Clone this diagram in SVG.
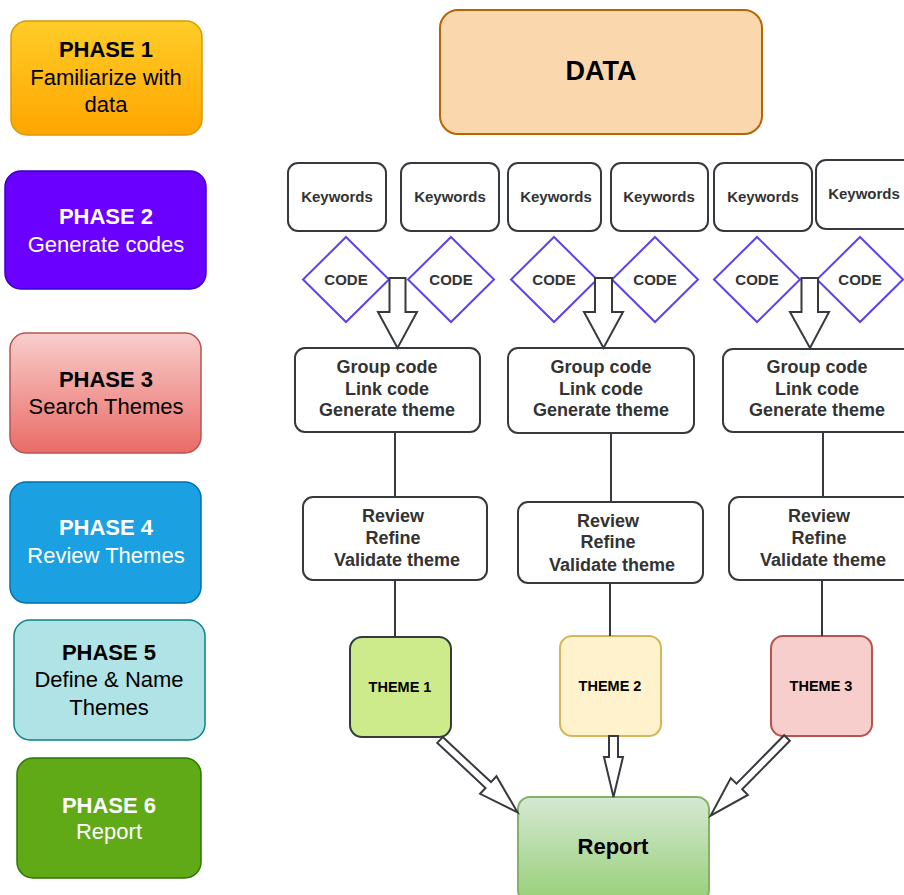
<svg xmlns="http://www.w3.org/2000/svg" width="904" height="895" viewBox="0 0 904 895">
<defs>
<linearGradient id="g1" x1="0" y1="0" x2="0" y2="1"><stop offset="0" stop-color="#ffcd28"/><stop offset="1" stop-color="#ffa500"/></linearGradient>
<linearGradient id="g3" x1="0" y1="0" x2="0" y2="1"><stop offset="0" stop-color="#f8cecc"/><stop offset="1" stop-color="#ea6b66"/></linearGradient>
<linearGradient id="gr" x1="0" y1="0" x2="0" y2="1"><stop offset="0" stop-color="#d5e8d4"/><stop offset="1" stop-color="#97d077"/></linearGradient>
<style>
text{font-family:"Liberation Sans",Arial,sans-serif;text-anchor:middle;dominant-baseline:central}
.ph{font-size:22px}
.b{font-weight:bold}
.w{fill:#ffffff}
.k{fill:#000000}
.box{fill:#ffffff;stroke:#36393d;stroke-width:2}
.kw{font-size:15px;font-weight:bold;fill:#333333}
.dia{fill:#ffffff;stroke:#5b43ef;stroke-width:2}
.st{font-size:18px;font-weight:bold;fill:#333333}
.ln{stroke:#36393d;stroke-width:2;fill:none}
.ar{fill:#ffffff;stroke:#36393d;stroke-width:2;stroke-linejoin:miter}
.th{font-size:14.5px;font-weight:bold;fill:#000000}
</style>
</defs>
<rect width="904" height="895" fill="#ffffff"/>

<g id="phase1"><rect x="11" y="21" width="191" height="114" rx="16" fill="url(#g1)" stroke="#d79b00" stroke-width="1.5"/>
<text class="ph b k" x="106" y="49">PHASE 1</text><text class="ph k" x="106" y="77">Familiarize with</text><text class="ph k" x="106" y="104">data</text></g>
<g id="phase2"><rect x="5" y="171" width="201" height="118" rx="16" fill="#6a00ff" stroke="#3700cc" stroke-width="1.5"/>
<text class="ph b w" x="106" y="216">PHASE 2</text><text class="ph w" x="106" y="244">Generate codes</text></g>
<g id="phase3"><rect x="10" y="333" width="191" height="120" rx="16" fill="url(#g3)" stroke="#b85450" stroke-width="1.5"/>
<text class="ph b k" x="106" y="379">PHASE 3</text><text class="ph k" x="106" y="406">Search Themes</text></g>
<g id="phase4"><rect x="10" y="482" width="191" height="121" rx="16" fill="#1ba1e2" stroke="#006eaf" stroke-width="1.5"/>
<text class="ph b w" x="106" y="527">PHASE 4</text><text class="ph w" x="106" y="555">Review Themes</text></g>
<g id="phase5"><rect x="14" y="620" width="191" height="120" rx="16" fill="#b0e3e6" stroke="#0e8088" stroke-width="1.5"/>
<text class="ph b k" x="109" y="652">PHASE 5</text><text class="ph k" x="109" y="679">Define &amp; Name</text><text class="ph k" x="109" y="707">Themes</text></g>
<g id="phase6"><rect x="17" y="758" width="184" height="120" rx="16" fill="#60a917" stroke="#2d7600" stroke-width="1.5"/>
<text class="ph b w" x="109" y="805">PHASE 6</text><text class="ph w" x="109" y="831">Report</text></g>

<g id="data"><rect x="440" y="10" width="322" height="124" rx="18" fill="#fad7ac" stroke="#b46504" stroke-width="2"/>
<text x="601" y="71" class="b" style="font-size:27px;fill:#000">DATA</text></g>

<g id="kw1"><rect class="box" x="288" y="163" width="98" height="68" rx="10"/><text class="kw" x="337" y="196">Keywords</text></g>
<g id="kw2"><rect class="box" x="401" y="163" width="98" height="68" rx="10"/><text class="kw" x="450" y="196">Keywords</text></g>
<g id="kw3"><rect class="box" x="508" y="163" width="93" height="68" rx="10"/><text class="kw" x="556" y="196">Keywords</text></g>
<g id="kw4"><rect class="box" x="611" y="163" width="97" height="68" rx="10"/><text class="kw" x="659" y="196">Keywords</text></g>
<g id="kw5"><rect class="box" x="714" y="163" width="98" height="68" rx="10"/><text class="kw" x="763" y="196">Keywords</text></g>
<g id="kw6"><rect class="box" x="816" y="160" width="98" height="69" rx="10"/><text class="kw" x="864" y="193">Keywords</text></g>

<g id="code1"><polygon class="dia" points="346,237 389,279.5 346,322 303,279.5"/><text class="kw" x="346" y="279">CODE</text></g>
<g id="code2"><polygon class="dia" points="451,237 494,279.5 451,322 408,279.5"/><text class="kw" x="451" y="279">CODE</text></g>
<g id="code3"><polygon class="dia" points="554,237 597,279.5 554,322 511,279.5"/><text class="kw" x="554" y="279">CODE</text></g>
<g id="code4"><polygon class="dia" points="655,237 698,279.5 655,322 612,279.5"/><text class="kw" x="655" y="279">CODE</text></g>
<g id="code5"><polygon class="dia" points="757,237 800,279.5 757,322 714,279.5"/><text class="kw" x="757" y="279">CODE</text></g>
<g id="code6"><polygon class="dia" points="860,237 903,279.5 860,322 817,279.5"/><text class="kw" x="860" y="279">CODE</text></g>

<g id="group1"><rect class="box" x="295" y="348" width="185" height="84" rx="10"/><text class="st" x="387" y="367">Group code</text><text class="st" x="387" y="389">Link code</text><text class="st" x="387" y="410">Generate theme</text></g>
<g id="group2"><rect class="box" x="508" y="348" width="186" height="85" rx="10"/><text class="st" x="601" y="367">Group code</text><text class="st" x="601" y="389">Link code</text><text class="st" x="601" y="410">Generate theme</text></g>
<g id="group3"><rect class="box" x="723" y="349" width="190" height="83" rx="10"/><text class="st" x="817" y="367">Group code</text><text class="st" x="817" y="389">Link code</text><text class="st" x="817" y="410">Generate theme</text></g>

<g id="review1"><rect class="box" x="303" y="497" width="184" height="83" rx="10"/><text class="st" x="393" y="516">Review</text><text class="st" x="393" y="538">Refine</text><text class="st" x="397" y="560">Validate theme</text></g>
<g id="review2"><rect class="box" x="518" y="502" width="185" height="81" rx="10"/><text class="st" x="608" y="521">Review</text><text class="st" x="608" y="542">Refine</text><text class="st" x="612" y="565">Validate theme</text></g>
<g id="review3"><rect class="box" x="729" y="497" width="185" height="83" rx="10"/><text class="st" x="819" y="516">Review</text><text class="st" x="819" y="538">Refine</text><text class="st" x="823" y="560">Validate theme</text></g>

<g id="theme1"><rect x="350" y="637" width="101" height="100" rx="12" fill="#cdeb8b" stroke="#36393d" stroke-width="2"/><text class="th" x="400" y="687">THEME 1</text></g>
<g id="theme2"><rect x="560" y="636" width="101" height="100" rx="12" fill="#fff2cc" stroke="#d6b656" stroke-width="2"/><text class="th" x="610" y="686">THEME 2</text></g>
<g id="theme3"><rect x="771" y="636" width="101" height="100" rx="12" fill="#f8cecc" stroke="#b85450" stroke-width="2"/><text class="th" x="821" y="686">THEME 3</text></g>

<g id="report"><rect x="518" y="797" width="191" height="105" rx="12" fill="url(#gr)" stroke="#82b366" stroke-width="2"/><text x="613" y="846" class="b" style="font-size:22px;fill:#000">Report</text></g>

<g id="connectors">
<polygon class="ar" points="389.5,278 405.5,278 405.5,312 417,312 397.5,348 378,312 389.5,312"/>
<polygon class="ar" points="595,278 612,278 612,312 623,312 603.5,348 584,312 595,312"/>
<polygon class="ar" points="801.5,278 818,278 818,312 829,312 810,348 790,312 801.5,312"/>
<line class="ln" x1="395" y1="432" x2="395" y2="497"/>
<line class="ln" x1="611" y1="433" x2="611" y2="502"/>
<line class="ln" x1="823" y1="432" x2="823" y2="497"/>
<line class="ln" x1="395" y1="580" x2="395" y2="637"/>
<line class="ln" x1="610" y1="583" x2="610" y2="636"/>
<line class="ln" x1="822" y1="580" x2="822" y2="636"/>
<polygon class="ar" transform="translate(440,740) rotate(43)" points="0,-4 66,-4 66,-12 106,0 66,12 66,4 0,4"/>
<polygon class="ar" transform="translate(613.5,736) rotate(90)" points="0,-4.5 21,-4.5 21,-9.5 61,0 21,9.5 21,4.5 0,4.5"/>
<polygon class="ar" transform="translate(787,738) rotate(134.5)" points="0,-4 68,-4 68,-12 109,0 68,12 68,4 0,4"/>
</g>
</svg>
